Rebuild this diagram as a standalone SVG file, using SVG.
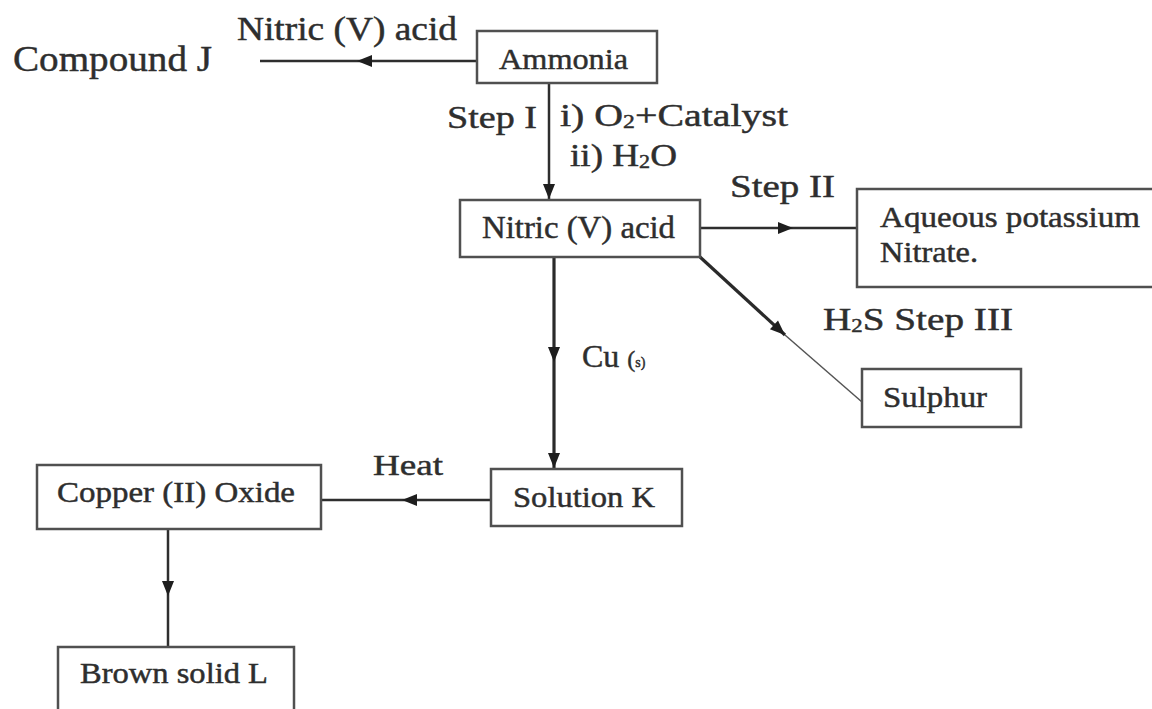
<svg xmlns="http://www.w3.org/2000/svg" width="1152" height="709" viewBox="0 0 1152 709">
<style>
text{font-family:"Liberation Serif","Times New Roman",serif;fill:#2e2e2e;stroke:#2e2e2e;stroke-width:0.45;}
.box{fill:#fff;stroke:#505050;stroke-width:2.5;}
.ln{fill:none;stroke:#2e2e2e;stroke-width:2.5;}
.thin{fill:none;stroke:#555;stroke-width:1.5;}
.thick{fill:none;stroke:#2a2a2a;stroke-width:3.2;}
</style>
<defs>
<marker id="ah" markerUnits="userSpaceOnUse" viewBox="-16 -7 17 14" refX="0" refY="0" markerWidth="17" markerHeight="14" orient="auto">
<path d="M0,0 L-15,-6 L-15,6 Z" fill="#1e1e1e"/>
</marker>
</defs>
<rect width="1152" height="709" fill="#fff"/>
<g id="connectors">
<path class="ln" d="M477,61 L357,61 L260,61" marker-mid="url(#ah)"/>
<path class="ln" d="M549,83 L549,199" marker-end="url(#ah)"/>
<path class="ln" d="M700,228 L793,228 L857,228" marker-mid="url(#ah)"/>
<path class="thick" d="M700,257 L785,335" marker-end="url(#ah)"/>
<path class="thin" d="M785,335 L862,402"/>
<path class="thick" d="M554,257 L554,362 L554,468" marker-mid="url(#ah)" marker-end="url(#ah)"/>
<path class="ln" d="M491,500 L402,500 L321,500" marker-mid="url(#ah)"/>
<path class="ln" d="M168,529 L168,596 L168,647" marker-mid="url(#ah)"/>
</g>
<g id="labels">
<text x="237" y="40" font-size="33" textLength="220" lengthAdjust="spacingAndGlyphs">Nitric (V) acid</text>
<text x="447" y="128" font-size="32" textLength="90" lengthAdjust="spacingAndGlyphs">Step I</text>
<text x="560" y="126" font-size="32" textLength="228" lengthAdjust="spacingAndGlyphs">i) O<tspan font-size="19" dy="2">2</tspan><tspan dy="-2">+Catalyst</tspan></text>
<text x="570" y="166" font-size="32" textLength="107" lengthAdjust="spacingAndGlyphs">ii) H<tspan font-size="19" dy="2">2</tspan><tspan dy="-2">O</tspan></text>
<text x="730" y="197" font-size="32" textLength="105" lengthAdjust="spacingAndGlyphs">Step II</text>
<text x="823" y="330" font-size="31" textLength="190" lengthAdjust="spacingAndGlyphs">H<tspan font-size="18" dy="2">2</tspan><tspan dy="-2">S Step III</tspan></text>
<text x="582" y="367" font-size="32">Cu <tspan font-size="24">(</tspan><tspan font-size="14">s)</tspan></text>
<text x="373" y="475" font-size="30" textLength="70" lengthAdjust="spacingAndGlyphs">Heat</text>
</g>
<g id="compound-j">
<text x="13" y="71" font-size="36" textLength="199" lengthAdjust="spacingAndGlyphs">Compound J</text>
</g>
<g id="ammonia">
<rect class="box" x="477" y="31" width="180" height="52"/>
<text x="499" y="69" font-size="29" textLength="129" lengthAdjust="spacingAndGlyphs">Ammonia</text>
</g>
<g id="nitric-acid">
<rect class="box" x="460" y="200" width="240" height="57"/>
<text x="482" y="238" font-size="31" textLength="193" lengthAdjust="spacingAndGlyphs">Nitric (V) acid</text>
</g>
<g id="potassium-nitrate">
<rect class="box" x="857" y="189" width="310" height="98"/>
<text x="880" y="227" font-size="29" textLength="260" lengthAdjust="spacingAndGlyphs">Aqueous potassium</text>
<text x="880" y="262" font-size="29" textLength="98" lengthAdjust="spacingAndGlyphs">Nitrate.</text>
</g>
<g id="sulphur">
<rect class="box" x="862" y="369" width="159" height="58"/>
<text x="883" y="407" font-size="29" textLength="104" lengthAdjust="spacingAndGlyphs">Sulphur</text>
</g>
<g id="solution-k">
<rect class="box" x="491" y="469" width="191" height="57"/>
<text x="513" y="507" font-size="29" textLength="142" lengthAdjust="spacingAndGlyphs">Solution K</text>
</g>
<g id="copper-oxide">
<rect class="box" x="37" y="465" width="284" height="64"/>
<text x="57" y="502" font-size="29" textLength="238" lengthAdjust="spacingAndGlyphs">Copper (II) Oxide</text>
</g>
<g id="brown-solid">
<rect class="box" x="58" y="647" width="236" height="70"/>
<text x="80" y="683" font-size="29" textLength="188" lengthAdjust="spacingAndGlyphs">Brown solid L</text>
</g>
</svg>
